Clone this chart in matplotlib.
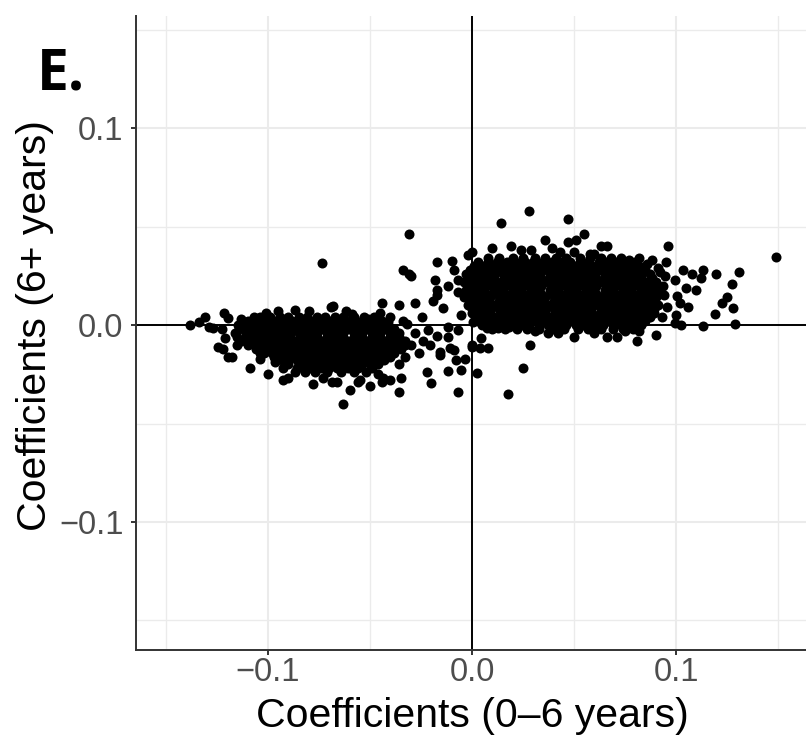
import matplotlib
matplotlib.use("Agg")
import matplotlib.pyplot as plt

# ---------------- data ----------------
# dense core of the left cluster: y level -> x values
left_core_rows = {
    0.004: [-0.104, -0.099, -0.094, -0.090, -0.085, -0.081, -0.076, -0.072, -0.067, -0.063, -0.058, -0.053, -0.048],
    0.002: [-0.110, -0.106, -0.101, -0.097, -0.092, -0.088, -0.084, -0.079, -0.075, -0.070, -0.066, -0.062,
            -0.057, -0.053, -0.048, -0.044],
    0.000: [-0.112, -0.108, -0.103, -0.099, -0.095, -0.090, -0.086, -0.082, -0.077, -0.073, -0.069, -0.064,
            -0.060, -0.055, -0.051, -0.046, -0.042],
    -0.002: [-0.114, -0.109, -0.105, -0.100, -0.096, -0.092, -0.087, -0.083, -0.078, -0.074, -0.069, -0.065,
             -0.061, -0.056, -0.052, -0.047, -0.043, -0.038],
    -0.004: [-0.116, -0.111, -0.107, -0.102, -0.098, -0.094, -0.089, -0.085, -0.080, -0.076, -0.071, -0.067,
             -0.063, -0.058, -0.054, -0.049, -0.045, -0.040, -0.036],
    -0.006: [-0.115, -0.111, -0.106, -0.102, -0.098, -0.093, -0.089, -0.084, -0.080, -0.076, -0.071, -0.067,
             -0.063, -0.058, -0.054, -0.049, -0.045, -0.040, -0.036],
    -0.008: [-0.113, -0.109, -0.104, -0.100, -0.096, -0.091, -0.087, -0.082, -0.078, -0.074, -0.069, -0.065,
             -0.061, -0.056, -0.052, -0.047, -0.043, -0.038, -0.033],
    -0.010: [-0.110, -0.106, -0.102, -0.098, -0.093, -0.089, -0.085, -0.080, -0.076, -0.072, -0.067, -0.063,
             -0.059, -0.055, -0.050, -0.046, -0.041, -0.037, -0.033],
    -0.012: [-0.106, -0.101, -0.097, -0.093, -0.088, -0.084, -0.079, -0.075, -0.071, -0.066, -0.062, -0.057,
             -0.053, -0.049, -0.044, -0.039, -0.035],
    -0.014: [-0.102, -0.098, -0.094, -0.090, -0.085, -0.081, -0.077, -0.073, -0.068, -0.064, -0.060, -0.055,
             -0.051, -0.047, -0.042, -0.038],
    -0.016: [-0.097, -0.093, -0.088, -0.084, -0.080, -0.075, -0.071, -0.066, -0.062, -0.058, -0.053, -0.049,
             -0.044, -0.040],
    -0.018: [-0.093, -0.090, -0.086, -0.082, -0.078, -0.073, -0.069, -0.065, -0.060, -0.056, -0.051, -0.047,
             -0.043],
    -0.020: [-0.090, -0.085, -0.081, -0.076, -0.072, -0.068, -0.063, -0.059, -0.054, -0.050, -0.046],
    -0.022: [-0.086, -0.083, -0.079, -0.074, -0.070, -0.066, -0.061, -0.056, -0.049],
    -0.024: [-0.082, -0.077, -0.071, -0.064, -0.058, -0.052],
}

# dense core of the right cluster: y level -> x values
right_core_rows = {
    0.034: [0.008, 0.013, 0.020, 0.025, 0.031, 0.036, 0.041, 0.046, 0.053, 0.058, 0.063, 0.068, 0.073],
    0.032: [0.003, 0.008, 0.012, 0.017, 0.021, 0.026, 0.030, 0.035, 0.039, 0.044, 0.048, 0.053, 0.057,
            0.062, 0.066, 0.071, 0.075, 0.080],
    0.030: [0.001, 0.005, 0.010, 0.014, 0.019, 0.023, 0.028, 0.032, 0.037, 0.041, 0.046, 0.050, 0.055,
            0.059, 0.064, 0.068, 0.073, 0.077, 0.082],
    0.028: [-0.001, 0.004, 0.008, 0.013, 0.017, 0.022, 0.026, 0.031, 0.035, 0.040, 0.044, 0.049, 0.053,
            0.058, 0.062, 0.067, 0.071, 0.076, 0.080, 0.085],
    0.026: [-0.003, 0.002, 0.006, 0.011, 0.015, 0.020, 0.024, 0.029, 0.033, 0.038, 0.042, 0.047, 0.051,
            0.056, 0.060, 0.065, 0.069, 0.074, 0.078, 0.083, 0.087],
    0.024: [-0.002, 0.002, 0.007, 0.011, 0.016, 0.020, 0.025, 0.029, 0.034, 0.038, 0.043, 0.047, 0.052,
            0.056, 0.061, 0.065, 0.070, 0.074, 0.079, 0.083, 0.088],
    0.022: [-0.004, 0.000, 0.005, 0.009, 0.014, 0.018, 0.023, 0.027, 0.032, 0.036, 0.041, 0.045, 0.050,
            0.054, 0.059, 0.063, 0.068, 0.072, 0.077, 0.081, 0.086, 0.090],
    0.020: [-0.002, 0.003, 0.007, 0.012, 0.016, 0.021, 0.025, 0.030, 0.034, 0.039, 0.043, 0.048, 0.052,
            0.057, 0.061, 0.066, 0.070, 0.075, 0.079, 0.084, 0.088],
    0.018: [-0.003, 0.002, 0.006, 0.011, 0.015, 0.020, 0.024, 0.029, 0.033, 0.038, 0.042, 0.047, 0.051,
            0.056, 0.060, 0.065, 0.069, 0.074, 0.078, 0.083, 0.087, 0.091],
    0.016: [-0.002, 0.003, 0.007, 0.012, 0.016, 0.021, 0.025, 0.030, 0.034, 0.039, 0.043, 0.048, 0.052,
            0.057, 0.061, 0.066, 0.070, 0.075, 0.079, 0.084, 0.088],
    0.014: [-0.004, 0.000, 0.005, 0.009, 0.014, 0.018, 0.023, 0.027, 0.032, 0.036, 0.041, 0.045, 0.050,
            0.054, 0.059, 0.063, 0.068, 0.072, 0.077, 0.081, 0.086, 0.090],
    0.012: [-0.001, 0.004, 0.008, 0.013, 0.017, 0.022, 0.026, 0.031, 0.035, 0.040, 0.044, 0.049, 0.053,
            0.058, 0.062, 0.067, 0.071, 0.076, 0.080, 0.085, 0.089],
    0.010: [-0.002, 0.002, 0.006, 0.011, 0.015, 0.020, 0.024, 0.029, 0.033, 0.038, 0.042, 0.047, 0.051,
            0.056, 0.060, 0.065, 0.069, 0.074, 0.078, 0.083, 0.087, 0.091],
    0.008: [0.000, 0.004, 0.009, 0.013, 0.018, 0.022, 0.027, 0.031, 0.036, 0.040, 0.045, 0.049, 0.054,
            0.058, 0.063, 0.067, 0.072, 0.076, 0.081, 0.085, 0.089],
    0.006: [0.000, 0.005, 0.009, 0.014, 0.018, 0.023, 0.027, 0.032, 0.036, 0.041, 0.045, 0.050, 0.054,
            0.059, 0.063, 0.068, 0.072, 0.077, 0.081, 0.086, 0.089],
    0.004: [0.002, 0.007, 0.011, 0.016, 0.020, 0.025, 0.029, 0.034, 0.038, 0.043, 0.047, 0.052, 0.056,
            0.061, 0.065, 0.070, 0.074, 0.079, 0.083, 0.087],
    0.002: [0.003, 0.008, 0.012, 0.017, 0.021, 0.026, 0.030, 0.035, 0.039, 0.044, 0.048, 0.053, 0.057,
            0.062, 0.066, 0.071, 0.075, 0.080, 0.085],
    0.000: [0.005, 0.010, 0.014, 0.019, 0.024, 0.028, 0.033, 0.037, 0.042, 0.046, 0.051, 0.055, 0.060,
            0.064, 0.069, 0.073, 0.078, 0.083],
    -0.002: [0.010, 0.016, 0.022, 0.027, 0.033, 0.040, 0.045, 0.052, 0.057, 0.063, 0.069, 0.074, 0.079],
}

# scattered points around the left cluster (x, y)
left_fringe = [
    (-0.138, 0.000), (-0.134, 0.0015), (-0.131, 0.004), (-0.129, -0.001), (-0.127, -0.0015),
    (-0.1215, 0.006), (-0.1195, 0.0035), (-0.1225, -0.002), (-0.1145, 0.000), (-0.121, -0.0066),
    (-0.1245, -0.011), (-0.122, -0.012), (-0.1195, -0.016), (-0.1175, -0.016), (-0.109, -0.022),
    (-0.104, -0.017), (-0.104, -0.014), (-0.107, 0.004), (-0.101, 0.006), (-0.095, 0.007),
    (-0.0965, -0.019), (-0.0925, -0.022), (-0.0925, -0.028), (-0.087, -0.024), (-0.073, -0.027),
    (-0.0685, -0.029), (-0.087, 0.0076), (-0.068, 0.0096), (-0.056, -0.029), (-0.0435, -0.027),
    (-0.040, -0.028), (-0.035, -0.027), (-0.0735, 0.0315), (-0.063, -0.040), (-0.066, -0.029),
    (-0.055, -0.028), (-0.069, 0.009), (-0.059, 0.0056), (-0.051, 0.003),
    (-0.100, -0.025), (-0.090, -0.027), (-0.078, -0.030), (-0.060, -0.033), (-0.050, -0.031),
    (-0.046, -0.025), (-0.115, -0.010), (-0.113, 0.003), (-0.080, 0.007), (-0.062, 0.007),
    (-0.045, 0.006), (-0.040, 0.004), (-0.036, -0.020), (-0.033, -0.016), (-0.030, -0.010),
    (-0.034, 0.002),
]

# points between the two clusters (x, y)
bridge_points = [
    (-0.031, 0.046), (-0.034, 0.028), (-0.031, 0.026), (-0.030, 0.025), (-0.017, 0.032),
    (-0.010, 0.0325), (-0.009, 0.028), (-0.007, 0.023), (-0.018, 0.023), (-0.012, 0.020),
    (-0.017, 0.018), (-0.017, 0.015), (-0.019, 0.012), (-0.014, 0.0086), (-0.007, 0.017),
    (-0.002, 0.0355), (-0.044, 0.011), (-0.036, 0.010), (-0.028, 0.011), (-0.0245, 0.004),
    (-0.041, 0.0015), (-0.032, 0.0005), (-0.0215, -0.0025), (-0.017, -0.0056), (-0.012, -0.001),
    (-0.012, -0.006), (-0.007, -0.0025), (-0.0205, -0.010), (-0.0155, -0.0137), (-0.011, -0.0117),
    (-0.008, -0.0178), (-0.0035, -0.0173), (-0.012, -0.0234), (-0.0055, -0.0228), (-0.022, -0.024),
    (-0.020, -0.0294), (-0.007, -0.034), (-0.036, -0.034), (-0.044, -0.029), (0.000, -0.011),
    (0.0025, -0.0244), (-0.0055, 0.005), (0.0005, 0.0015), (0.000, -0.010), (0.0045, -0.0066),
    (0.008, -0.0117), (0.004, -0.0117), (-0.009, -0.0127), (-0.0155, -0.015), (0.025, -0.022),
    (0.0176, -0.035), (0.0285, -0.010), (-0.024, -0.008), (-0.028, -0.004), (-0.026, -0.014),
]

# scattered points around the right cluster (x, y)
right_fringe = [
    (0.014, 0.052), (0.028, 0.058), (0.036, 0.043), (0.010, 0.039), (0.019, 0.040), (0.024, 0.038),
    (0.029, 0.038), (0.000, 0.037), (0.047, 0.054), (0.047, 0.042), (0.051, 0.043), (0.055, 0.046),
    (0.050, 0.037), (0.058, 0.036), (0.066, 0.040), (0.096, 0.040), (0.095, 0.032), (0.149, 0.0345),
    (0.0995, 0.001), (0.100, 0.005), (0.106, 0.009), (0.102, 0.011), (0.1005, 0.0147), (0.0995, 0.023),
    (0.105, 0.019), (0.110, 0.018), (0.0945, 0.025), (0.0935, 0.020), (0.0955, 0.009), (0.112, 0.024),
    (0.113, 0.028), (0.108, 0.026), (0.1035, 0.028), (0.1195, 0.026), (0.131, 0.027), (0.1275, 0.021),
    (0.125, 0.014), (0.1225, 0.011), (0.128, 0.0086), (0.119, 0.0056), (0.129, 0.0005), (0.113, -0.0005),
    (0.1025, 0.000), (0.091, 0.029), (0.086, 0.031), (0.082, 0.034), (0.077, 0.033), (0.060, 0.036),
    (0.043, 0.037), (0.093, 0.004), (0.094, 0.015), (0.092, 0.027), (0.088, 0.033), (0.090, -0.005),
    (0.081, -0.008), (0.071, -0.006), (0.066, -0.006), (0.050, -0.006), (0.037, -0.004), (0.042, -0.004),
    (0.0075, -0.0015), (0.0127, -0.0015), (0.018, -0.001), (0.031, -0.003), (0.060, -0.004),
    (0.075, -0.003), (0.082, -0.003), (0.063, 0.040), (0.039, 0.039),
]

x_ticks = [-0.1, 0.0, 0.1]
x_tick_labels = ["\u22120.1", "0.0", "0.1"]
y_ticks = [-0.1, 0.0, 0.1]
y_tick_labels = ["\u22120.1", "0.0", "0.1"]
minor_ticks = [-0.15, -0.05, 0.05, 0.15]
x_label = "Coefficients (0\u20136 years)"
y_label = "Coefficients (6+ years)"
panel_tag = "E."

# ---------------- assemble points ----------------
xs, ys = [], []
for rows in (left_core_rows, right_core_rows):
    for yv, xvals in rows.items():
        for xv in xvals:
            xs.append(xv)
            ys.append(yv)
for group in (left_fringe, bridge_points, right_fringe):
    for xv, yv in group:
        xs.append(xv)
        ys.append(yv)

# ---------------- plot ----------------
plt.rcParams['font.family'] = ['Liberation Sans', 'DejaVu Sans']
W, H = 806, 736
fig = plt.figure(figsize=(W / 100, H / 100), dpi=100)
ax = fig.add_axes([136 / W, (H - 650) / H, 1 - 136 / W, (650 - 16) / H])

ax.set_xlim(-0.1647, 0.1637)
ax.set_ylim(-0.165, 0.1569)

grid_col = "#EBEBEB"
for v in minor_ticks:
    ax.axvline(v, color=grid_col, lw=0.95, zorder=0)
    ax.axhline(v, color=grid_col, lw=0.95, zorder=0)
for v in x_ticks:
    ax.axvline(v, color=grid_col, lw=1.45, zorder=0)
for v in y_ticks:
    ax.axhline(v, color=grid_col, lw=1.45, zorder=0)

ax.axhline(0, color="black", lw=1.4, zorder=1)
ax.axvline(0, color="black", lw=1.4, zorder=1)

ax.scatter(xs, ys, s=52, color="black", linewidths=0, zorder=3)

ax.set_xticks(x_ticks)
ax.set_xticklabels(x_tick_labels)
ax.set_yticks(y_ticks)
ax.set_yticklabels(y_tick_labels)
ax.tick_params(axis="both", length=3.6, width=1.4, color="#333333",
               labelcolor="#4D4D4D", labelsize=23.5)
ax.tick_params(axis="x", pad=1.5)
ax.tick_params(axis="y", pad=5.4)

for side in ("top", "right"):
    ax.spines[side].set_visible(False)
for side in ("left", "bottom"):
    ax.spines[side].set_color("#333333")
    ax.spines[side].set_linewidth(1.4)

# axis titles placed to match the reference
fig.text(472.5 / W, 1 - 727 / H, x_label, fontsize=29.5, color="black",
         ha="center", va="baseline")
fig.text(35 / W, 1 - 326 / H, y_label, fontsize=29.5, color="black",
         ha="center", va="center", rotation=90)

fig.text(37 / W, 1 - 89 / H, panel_tag, fontsize=41, fontweight="bold",
         family=["Open Sans", "DejaVu Sans"], ha="left", va="baseline")

fig.savefig("out.png", dpi=100)
